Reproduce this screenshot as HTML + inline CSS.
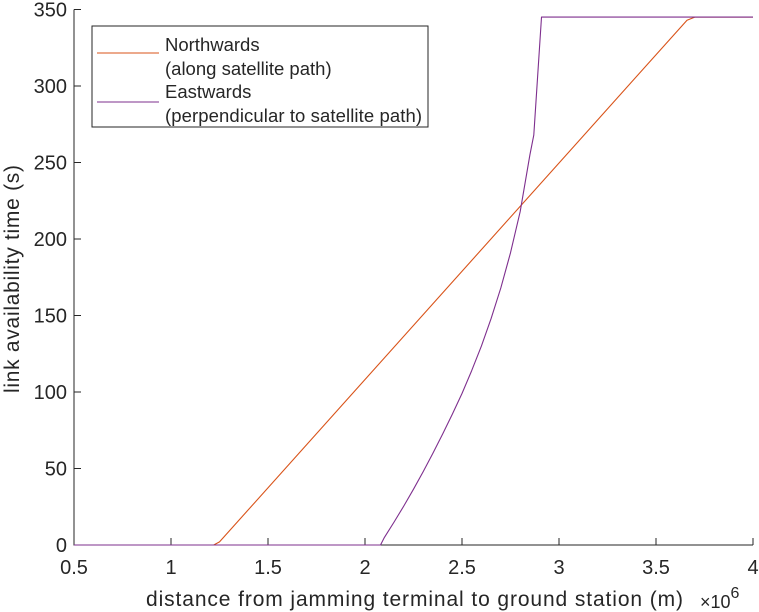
<!DOCTYPE html>
<html><head><meta charset="utf-8"><style>
body{margin:0;background:#fff}
svg{display:block;font-family:"Liberation Sans",sans-serif}
</style></head><body>
<svg id="chart" width="759" height="612" xmlns="http://www.w3.org/2000/svg"></svg>
<script>
const xTicks=[0.5,1,1.5,2,2.5,3,3.5,4];
const yTicks=[0,50,100,150,200,250,300,350];
const northX=[0.5,1.22,1.25,3.66,3.70,4.0];
const northY=[0,0,2,343,345,345];
const eastX=[0.5,2.08,2.1,2.15,2.2,2.25,2.3,2.35,2.4,2.45,2.5,2.55,2.6,2.65,2.7,2.75,2.8,2.85,2.87,2.91,4.0];
const eastY=[0,0,5,15,25.5,36.5,48,60,72.5,85.5,99,114,130,148,168,191,218,255,268,345,345];
const NS='http://www.w3.org/2000/svg';
const svg=document.getElementById('chart');
const X0=74,X1=753,Y0=545,Y1=9.5;
const sx=v=>X0+(v-0.5)/3.5*(X1-X0);
const sy=v=>Y0-v/350*(Y0-Y1);
function mk(t,a,p){const e=document.createElementNS(NS,t);for(const k in a)e.setAttribute(k,a[k]);(p||svg).appendChild(e);return e;}
let ax=mk('path',{d:`M${X0},${Y1}V${Y0}H${X1}`,stroke:'#262626',fill:'none','stroke-width':1});


xTicks.forEach(t=>{
 const tk=mk('line',{x1:sx(t),x2:sx(t),y1:Y0,y2:Y0-7,stroke:'#262626'});
 
 
 const l=mk('text',{x:sx(t),y:574,'text-anchor':'middle','font-size':20,fill:'#262626'});
 l.textContent=String(t);
 
 
});
yTicks.forEach(t=>{
 const tk=mk('line',{x1:X0,x2:X0+7,y1:sy(t),y2:sy(t),stroke:'#262626'});
 
 
 const l=mk('text',{x:X0-7,y:sy(t)+7,'text-anchor':'end','font-size':20,fill:'#262626'});
 l.textContent=String(t);
 
 
});
function line(xs,ys,c,name){
 const d=xs.map((x,i)=>(i?'L':'M')+sx(x).toFixed(1)+','+sy(ys[i]).toFixed(1)).join('');
 const p=mk('path',{d,stroke:c,fill:'none','stroke-width':1.1,'stroke-linejoin':'round'});
 
 
}
line(northX,northY,'#D95319','northwards-line');
line(eastX,eastY,'#7E2F8E','eastwards-line');
</script>
<svg style="position:absolute;left:0;top:0" width="759" height="612" xmlns="http://www.w3.org/2000/svg" font-family="Liberation Sans, sans-serif">
<g>
<rect x="92" y="26" width="336" height="101" fill="#fff" stroke="#262626" stroke-width="1"/>
<line x1="97" y1="53" x2="159" y2="53" stroke="#D95319"/>
<line x1="97" y1="102" x2="159" y2="102" stroke="#7E2F8E"/>
<text font-size="18.5" fill="#262626"><tspan x="165" y="51">Northwards</tspan><tspan x="165" y="75">(along satellite path)</tspan></text>
<text font-size="18.5" fill="#262626"><tspan x="165" y="98">Eastwards</tspan><tspan x="165" y="122" textLength="257">(perpendicular to satellite path)</tspan></text>
</g>
<text x="146" y="606" textLength="537" font-size="21" fill="#262626">distance from jamming terminal to ground station (m)</text>
<text x="700" y="608" font-size="18" fill="#262626">×10<tspan dy="-10" font-size="16">6</tspan></text>
<text transform="translate(19,165) rotate(-90)" x="-228" textLength="228" font-size="21" fill="#262626">link availability time (s)</text>
</svg>
</body></html>
